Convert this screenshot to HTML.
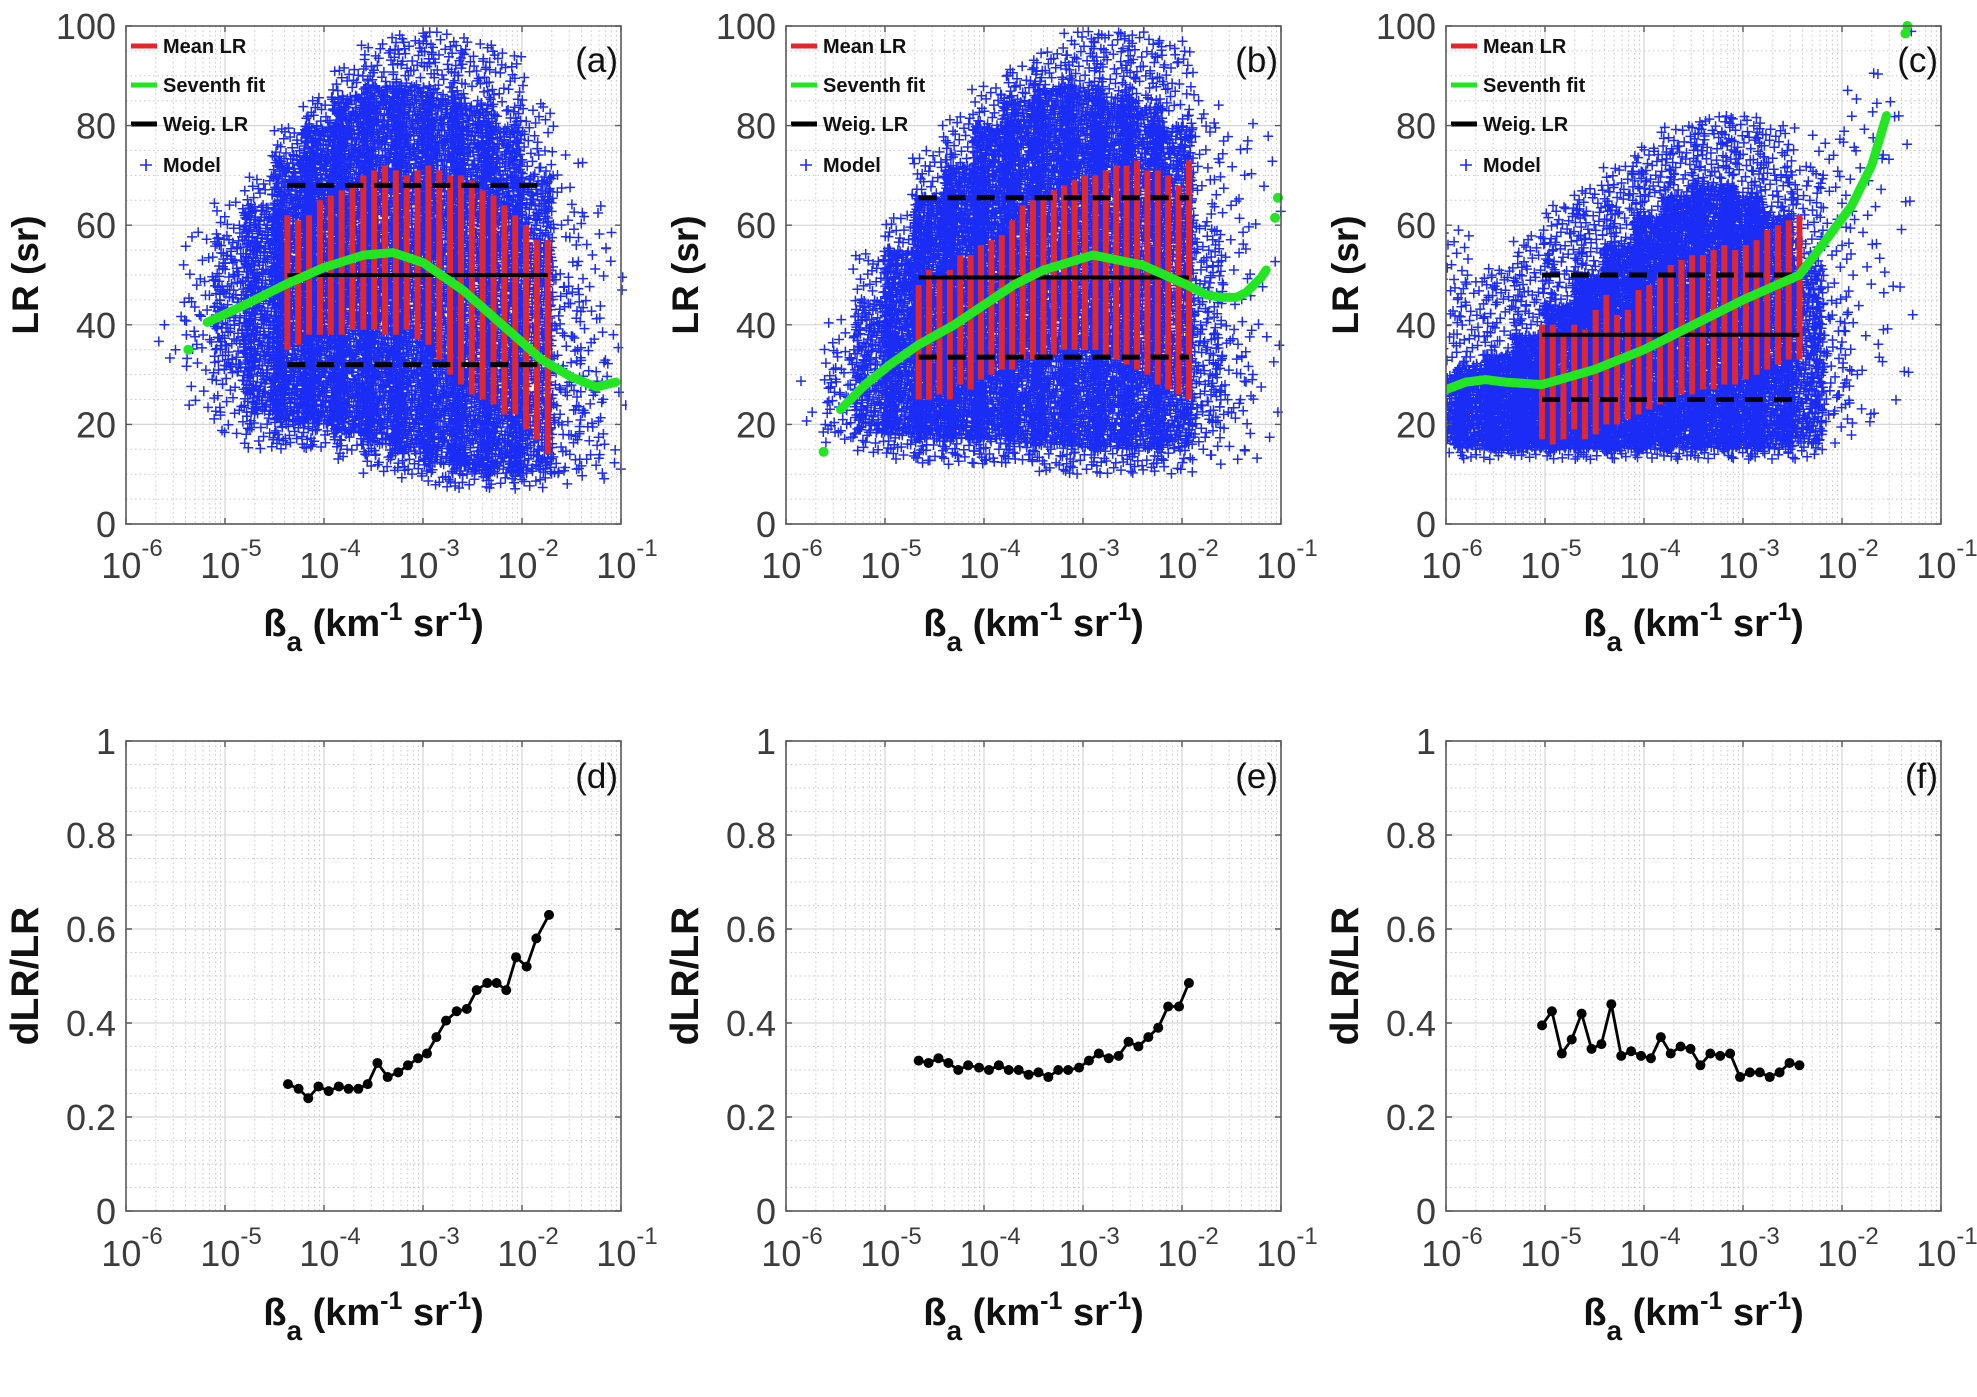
<!DOCTYPE html>
<html><head><meta charset="utf-8"><style>
html,body{margin:0;padding:0;background:#fff;}
svg{display:block;font-family:"Liberation Sans",sans-serif;}
</style></head><body>
<svg id="fig" width="1977" height="1397" viewBox="0 0 1977 1397" xmlns="http://www.w3.org/2000/svg"></svg>
<script>
// ---------- data ----------
const panelLetters = ["(a)","(b)","(c)","(d)","(e)","(f)"];
const xTickExp = [-6,-5,-4,-3,-2,-1];
const yTicksTop = [0,20,40,60,80,100];
const yTicksBot = [0,0.2,0.4,0.6,0.8,1];
const yTicksBotLbl = ["0","0.2","0.4","0.6","0.8","1"];
const legendLabels = ["Mean LR","Seventh fit","Weig.  LR","Model"];

const barsA_x0 = -4.37, barsA_x1 = -1.74;
const barsA_top = [62,61,62,65,66,67,68,70,71,72,71,70,71,72,71,70,70,69,67,66,64,62,60,57,57];
const barsA_bot = [35,36,38,38,38,38,39,39,39,38,38,39,37,36,33,30,28,26,25,24,22,22,19,17,14];
const barsB_x0 = -4.66, barsB_x1 = -1.93;
const barsB_top = [48,51,50,51,54,54,56,57,58,61,64,65,66,67,68,69,70,70,71,72,72,73,71,71,70,68,73];
const barsB_bot = [25,25,26,25,28,27,29,30,31,31,33,33,34,34,35,35,35,35,34,33,32,31,30,28,27,26,25];
const barsC_x0 = -5.03, barsC_x1 = -2.43;
const barsC_top = [40,40,38,40,39,43,46,42,43,47,48,50,52,53,54,54,55,56,55,56,57,59,60,61,62];
const barsC_bot = [17,16,17,19,17,18,20,20,21,22,23,24,25,26,26,27,27,28,28,29,30,31,32,33,33];

const weigLR = [50,49.5,38];
const dashHi = [68,65.5,50];
const dashLo = [32,33.5,25];

const fitA_x = [-5.18,-4.8,-4.4,-4.0,-3.6,-3.3,-3.0,-2.6,-2.2,-1.8,-1.5,-1.25,-1.05];
const fitA_y = [40.5,44,48,51.5,54,54.5,52.5,47,40,33,29.5,27.5,28.5];
const fitA_ox = [-5.37], fitA_oy = [35];
const fitB_x = [-5.45,-5.2,-4.95,-4.66,-4.3,-4.0,-3.7,-3.4,-2.9,-2.4,-1.95,-1.75,-1.6,-1.45,-1.35,-1.2,-1.15];
const fitB_y = [23,28,32,36,40,44,48,51,54,52,48,46,45.5,45.5,46.5,49.5,51];
const fitB_ox = [-5.62,-1.06,-1.03], fitB_oy = [14.5,61.5,65.5];
const fitC_x = [-6.0,-5.8,-5.6,-5.4,-5.03,-4.5,-4.0,-3.5,-3.0,-2.43,-2.2,-1.9,-1.7,-1.55];
const fitC_y = [27,28.5,29,28.5,28,31,35,40,45,50,56,64,72,82];
const fitC_ox = [-1.36,-1.34], fitC_oy = [98.5,100];

const cloudA_x  = [-5.5,-5.2,-4.9,-4.6,-4.3,-4.0,-3.7,-3.4,-3.1,-2.8,-2.5,-2.2,-1.9,-1.6,-1.3,-1.1];
const cloudA_lo = [30,22,18,15,15,15,13,10,9,7,7,7,7,8,8,8];
const cloudA_hi = [45,60,65,70,80,86,92,97,99,99,97,95,85,75,65,60];
const cloudA_clo = [36,35,30,22,20,20,18,16,14,12,10,10,10,10,10,10];
const cloudA_chi = [42,50,58,64,74,80,86,88,88,86,84,80,70,50,35,30];
const cloudA_n  = [6,40,120,200,260,280,300,300,300,300,280,260,200,80,40,20];
const cloudA_cn = [0,20,120,350,600,700,750,750,750,750,700,650,450,80,20,0];
const cloudB_x  = [-5.7,-5.4,-5.1,-4.8,-4.5,-4.2,-3.9,-3.6,-3.3,-3.0,-2.7,-2.4,-2.1,-1.8,-1.5,-1.2];
const cloudB_lo = [18,15,14,13,12,12,12,12,10,10,10,10,10,12,12,12];
const cloudB_hi = [30,42,55,62,75,82,88,92,95,99,99,99,97,85,82,80];
const cloudB_clo = [20,18,18,18,17,17,17,16,16,15,15,15,15,18,20,20];
const cloudB_chi = [26,35,45,55,66,72,80,85,88,88,86,84,80,60,40,35];
const cloudB_n  = [6,40,120,200,240,260,280,300,300,300,300,280,240,100,50,25];
const cloudB_cn = [0,40,200,450,650,700,750,750,750,750,750,700,600,150,30,0];
const cloudC_x  = [-5.95,-5.7,-5.4,-5.1,-4.8,-4.5,-4.2,-3.9,-3.6,-3.3,-3.0,-2.7,-2.4,-2.1,-1.8,-1.5];
const cloudC_lo = [13,13,13,13,13,13,13,13,13,13,13,13,13,15,18,22];
const cloudC_hi = [60,50,52,58,64,68,72,76,80,82,82,80,72,80,88,99];
const cloudC_clo = [16,15,15,15,15,15,15,15,15,15,15,15,16,20,25,30];
const cloudC_chi = [30,32,34,38,44,50,56,62,66,68,66,62,52,45,40,35];
const cloudC_n  = [70,100,130,160,200,220,240,260,270,270,260,240,180,70,40,25];
const cloudC_cn = [150,250,350,450,550,650,700,750,750,750,700,600,300,40,0,0];

const relD_x = [-4.364,-4.257,-4.159,-4.056,-3.953,-3.85,-3.752,-3.653,-3.559,-3.46,-3.357,-3.25,-3.152,-3.05,-2.96,-2.865,-2.767,-2.66,-2.557,-2.458,-2.351,-2.257,-2.159,-2.06,-1.953,-1.855,-1.727];
const relD_y = [0.27,0.26,0.24,0.265,0.255,0.265,0.26,0.26,0.27,0.315,0.285,0.295,0.31,0.325,0.335,0.37,0.405,0.425,0.43,0.47,0.485,0.485,0.47,0.54,0.52,0.58,0.63];
const relE_x = [-4.66,-4.56,-4.46,-4.36,-4.26,-4.16,-4.05,-3.95,-3.85,-3.75,-3.65,-3.55,-3.45,-3.35,-3.25,-3.15,-3.04,-2.94,-2.84,-2.74,-2.64,-2.54,-2.44,-2.34,-2.24,-2.14,-2.03,-1.93];
const relE_y = [0.32,0.315,0.325,0.315,0.30,0.31,0.305,0.30,0.31,0.30,0.30,0.29,0.295,0.285,0.30,0.30,0.305,0.32,0.335,0.325,0.33,0.36,0.35,0.37,0.39,0.435,0.435,0.485];
const relF_x = [-5.03,-4.93,-4.83,-4.73,-4.63,-4.53,-4.43,-4.33,-4.23,-4.13,-4.03,-3.93,-3.83,-3.73,-3.63,-3.53,-3.43,-3.33,-3.23,-3.13,-3.03,-2.93,-2.83,-2.73,-2.63,-2.53,-2.43];
const relF_y = [0.395,0.425,0.335,0.365,0.42,0.345,0.355,0.44,0.33,0.34,0.33,0.325,0.37,0.335,0.35,0.345,0.31,0.335,0.33,0.335,0.285,0.295,0.295,0.285,0.295,0.315,0.31];

// ---------- drawing ----------
const NS = "http://www.w3.org/2000/svg";
const svg = document.getElementById("fig");
const PX = [126,786,1446], PW = 495;
const TOP = {y0:26, y1:524}, BOT = {y0:741, y1:1211};

function mk(tag, attrs, parent){
  const e = document.createElementNS(NS, tag);
  for (const k in attrs) e.setAttribute(k, attrs[k]);
  (parent||svg).appendChild(e);
  return e;
}
function halton(i, b){ let f = 1, r = 0; while (i > 0){ f /= b; r += f * (i % b); i = Math.floor(i / b); } return r; }

function drawAxes(p, row, g){
  const x0 = PX[p], x1 = PX[p]+PW, y0 = row.y0, y1 = row.y1;
  const isTop = row === TOP;
  const sx = l => x0 + (l + 6) / 5 * PW;
  const yMax = isTop ? 100 : 1;
  const sy = v => y1 - v / yMax * (y1 - y0);
  let dMinor = "";
  for (let d = -6; d < -1; d++) for (let m = 2; m <= 9; m++){
    const X = sx(d + Math.log10(m)); dMinor += `M${X} ${y0}V${y1}`;
  }
  const yt = isTop ? yTicksTop : yTicksBot;
  const step = yt[1]-yt[0];
  for (let v = step/4; v < yMax; v += step/4){
    if (Math.abs(v/step - Math.round(v/step)) < 1e-6) continue;
    dMinor += `M${x0} ${sy(v)}H${x1}`;
  }
  const gm = mk("path",{d:dMinor,stroke:"#c8c8c8","stroke-width":1,"stroke-dasharray":"1.5 3",fill:"none"},g);
  
  
  let dMajor = "";
  xTickExp.forEach(e => { dMajor += `M${sx(e)} ${y0}V${y1}`; });
  yt.forEach(v => { dMajor += `M${x0} ${sy(v)}H${x1}`; });
  const gM = mk("path",{d:dMajor,stroke:"#d6d6d6","stroke-width":1.2,fill:"none"},g);
  
  
  return {sx, sy, x0, x1, y0, y1, isTop};
}

function drawFrameLabels(ax, p, letterIdx, g){
  const {sx, sy, x0, x1, y0, y1, isTop} = ax;
  const fr = mk("rect",{x:x0,y:y0,width:x1-x0,height:y1-y0,fill:"none",stroke:"#5a5a5a","stroke-width":1.6},g);
  
  
  let dt = "";
  xTickExp.forEach(e => { dt += `M${sx(e)} ${y1}v-6M${sx(e)} ${y0}v6`; });
  const yt = isTop ? yTicksTop : yTicksBot;
  yt.forEach(v => { dt += `M${x0} ${sy(v)}h6M${x1} ${sy(v)}h-6`; });
  mk("path",{d:dt,stroke:"#5a5a5a","stroke-width":1.4},g);
  const tb = isTop ? 578 : 1266;
  xTickExp.forEach(e => {
    const t = mk("text",{x:sx(e)+6,y:tb,"font-size":36,fill:"#3c3c3c","text-anchor":"middle"},g);
    
    
    t.textContent = "10";
    const s = mk("tspan",{dy:-22,"font-size":24},t);
    s.textContent = String(e);
  });
  yt.forEach((v,i) => {
    const t = mk("text",{x:x0-10,y:sy(v)+13,"font-size":36,fill:"#3c3c3c","text-anchor":"end"},g);
    
    
    t.textContent = isTop ? String(v) : yTicksBotLbl[i];
  });
  const xt = mk("text",{x:x0+PW/2,y:isTop?636:1325,"font-size":38,"font-weight":"bold",fill:"#111","text-anchor":"middle"},g);
  
  
  xt.innerHTML = 'ß<tspan font-size="28" dy="15">a</tspan><tspan dy="-15"> (km</tspan><tspan font-size="25" dy="-16">-1</tspan><tspan dy="16"> sr</tspan><tspan font-size="25" dy="-16">-1</tspan><tspan dy="16">)</tspan>';
  const cy = (y0+y1)/2;
  const ytl = mk("text",{x:0,y:0,"font-size":isTop?37:39,"font-weight":"bold",fill:"#111","text-anchor":"middle",transform:`translate(${x0-88},${cy}) rotate(-90)`},g);
  
  
  ytl.textContent = isTop ? "LR (sr)" : "dLR/LR";
  const pl = mk("text",{x:x1-3,y:isTop?72:788,"font-size":35,fill:"#111","text-anchor":"end"},g);
  
  
  pl.textContent = panelLetters[letterIdx];
}

function drawTop(p, bx0, bx1, btop, bbot, fx, fy, ox, oy, cx, clo, chi, cclo, cchi, cn, ccn){
  const g = mk("g",{});
  
  
  const ax = drawAxes(p, TOP, g);
  const {sx, sy} = ax;
  const clip = mk("clipPath",{id:"clip"+p},g);
  mk("rect",{x:ax.x0,y:ax.y0-6,width:PW+6,height:ax.y1-ax.y0+6},clip);
  const gc = mk("g",{"clip-path":`url(#clip${p})`},g);
  let d = "";
  let idx = 1 + p * 977;
  function put(lx, v){
    const X = sx(lx), Y = sy(v);
    d += `M${(X-5).toFixed(1)} ${Y.toFixed(1)}h10M${X.toFixed(1)} ${(Y-5).toFixed(1)}v10`;
  }
  for (let c = 0; c < cx.length; c++){
    const w = c < cx.length-1 ? Math.abs(cx[c+1]-cx[c]) : Math.abs(cx[c]-cx[c-1]);
    for (let k = 0; k < cn[c]; k++, idx++){
      const lx = cx[c] + (halton(idx,2) - 0.5) * w * 1.5;
      const v = clo[c] + (chi[c]-clo[c]) * halton(idx,3);
      put(lx, v);
    }
    for (let k = 0; k < ccn[c]; k++, idx++){
      const lx = cx[c] + (halton(idx,2) - 0.5) * w * 1.4;
      const v = cclo[c] + (cchi[c]-cclo[c]) * halton(idx,3);
      put(lx, v);
    }
  }
  const sc = mk("path",{d:d,stroke:"#1b2cf5","stroke-width":1.5,fill:"none"},gc);
  
  
  const n = btop.length;
  for (let i = 0; i < n; i++){
    const lx = bx0 + (bx1-bx0)*i/(n-1);
    const r = mk("line",{x1:sx(lx),x2:sx(lx),y1:sy(btop[i]),y2:sy(bbot[i]),stroke:"#e3262c","stroke-width":6},gc);
    
    
  }
  const wl = mk("line",{x1:sx(bx0),x2:sx(bx1),y1:sy(weigLR[p]),y2:sy(weigLR[p]),stroke:"#000","stroke-width":4},gc);
  
  
  [dashHi[p], dashLo[p]].forEach(v => {
    const dl = mk("line",{x1:sx(bx0),x2:sx(bx1),y1:sy(v),y2:sy(v),stroke:"#000","stroke-width":5,"stroke-dasharray":"18 11"},gc);
    
    
  });
  const pts = fx.map((x,i) => `${sx(x).toFixed(1)},${sy(fy[i]).toFixed(1)}`).join(" ");
  const fl = mk("polyline",{points:pts,fill:"none",stroke:"#22e622","stroke-width":9,"stroke-linecap":"round","stroke-linejoin":"round"},gc);
  
  
  ox.forEach((x,i) => {
    const c = mk("circle",{cx:sx(x),cy:sy(oy[i]),r:5,fill:"#22e622"},gc);
    
    
  });
  const lg = mk("g",{},g);
  
  
  const lx0 = ax.x0;
  const rows = [46,85,124,165];
  const cols = ["#e3262c","#22e622","#000"];
  for (let i = 0; i < 3; i++){
    mk("line",{x1:lx0+5,x2:lx0+31,y1:rows[i],y2:rows[i],stroke:cols[i],"stroke-width":5},lg);
  }
  mk("path",{d:`M${lx0+14} ${rows[3]}h12M${lx0+20} ${rows[3]-6}v12`,stroke:"#1b2cf5","stroke-width":1.6},lg);
  legendLabels.forEach((s,i) => {
    const t = mk("text",{x:lx0+37,y:rows[i]+7,"font-size":20,"font-weight":"bold",fill:"#111"},lg);
    
    
    t.textContent = s;
  });
  drawFrameLabels(ax, p, p, g);
}

function drawBot(p, xs, ys){
  const g = mk("g",{});
  
  
  const ax = drawAxes(p, BOT, g);
  const {sx, sy} = ax;
  const pts = xs.map((x,i) => `${sx(x).toFixed(1)},${sy(ys[i]).toFixed(1)}`).join(" ");
  const ln = mk("polyline",{points:pts,fill:"none",stroke:"#000","stroke-width":2.8},g);
  
  
  xs.forEach((x,i) => {
    const c = mk("circle",{cx:sx(x),cy:sy(ys[i]),r:5,fill:"#000"},g);
    
    
  });
  drawFrameLabels(ax, p, p+3, g);
}

drawTop(0, barsA_x0, barsA_x1, barsA_top, barsA_bot, fitA_x, fitA_y, fitA_ox, fitA_oy, cloudA_x, cloudA_lo, cloudA_hi, cloudA_clo, cloudA_chi, cloudA_n, cloudA_cn);
drawTop(1, barsB_x0, barsB_x1, barsB_top, barsB_bot, fitB_x, fitB_y, fitB_ox, fitB_oy, cloudB_x, cloudB_lo, cloudB_hi, cloudB_clo, cloudB_chi, cloudB_n, cloudB_cn);
drawTop(2, barsC_x0, barsC_x1, barsC_top, barsC_bot, fitC_x, fitC_y, fitC_ox, fitC_oy, cloudC_x, cloudC_lo, cloudC_hi, cloudC_clo, cloudC_chi, cloudC_n, cloudC_cn);
drawBot(0, relD_x, relD_y);
drawBot(1, relE_x, relE_y);
drawBot(2, relF_x, relF_y);
</script>
</body></html>
